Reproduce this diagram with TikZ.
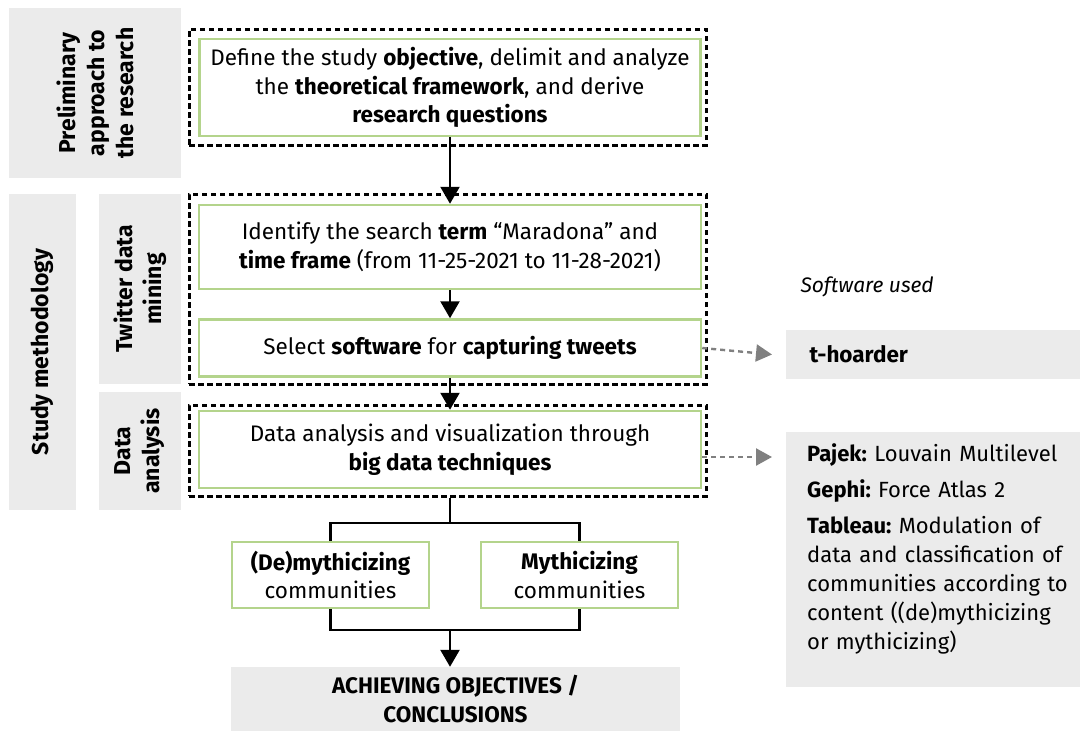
\documentclass[tikz,border=0pt]{standalone}
\usepackage{fontspec}
\setmainfont{Fira Sans}
\usetikzlibrary{arrows.meta}
\definecolor{gbox}{HTML}{EBEBEB}
\definecolor{lgreen}{HTML}{B4D48C}
\definecolor{darrow}{HTML}{808080}
\frenchspacing
\tikzset{
  greenbox/.style={draw=lgreen, line width=2.5pt, fill=white, align=center, inner sep=0pt, font=\fontsize{22.5}{28.5}\selectfont},
  dashbox/.style={draw=black, line width=3pt, dash pattern=on 5.5pt off 3.5pt},
  graybox/.style={fill=gbox, inner sep=0pt},
  sidelabel/.style={rotate=90, align=center, font=\bfseries\fontsize{23}{29}\selectfont},
  flow/.style={line width=2.4pt, -{Triangle[width=19pt,length=17pt]}},
  plain/.style={line width=2.4pt},
  softarrow/.style={darrow, line width=2.4pt, dash pattern=on 5pt off 4pt, -{Triangle[width=17pt,length=16pt]}},
}
\begin{document}
\begin{tikzpicture}[x=1pt,y=-1pt]
\useasboundingbox (0,0) rectangle (1080,731);
% gray label boxes
\node[graybox, minimum width=172, minimum height=170] (prel) at (95,93) {};
\node[graybox, minimum width=67, minimum height=316] (meth) at (42.5,352) {};
\node[graybox, minimum width=82, minimum height=190] (tw) at (140,289) {};
\node[graybox, minimum width=82, minimum height=118] (da) at (140,451) {};
\node[sidelabel] (prelt) at (prel.center) {Preliminary\\approach to\\the research};
\node[sidelabel] (metht) at (meth.center) {Study methodology};
\node[sidelabel] (twt) at (tw.center) {Twitter data\\mining};
\node[sidelabel] (dat) at (da.center) {Data\\analysis};
% dashed frames
\node[dashbox, minimum width=517, minimum height=116] (d1) at (447.5,87) {};
\node[dashbox, minimum width=517, minimum height=190] (d2) at (447.5,289) {};
\node[dashbox, minimum width=517, minimum height=91] (d3) at (447.5,450.5) {};
% green boxes
\node[greenbox, minimum width=501, minimum height=97] (obj) at (450,87.5) {Define the study \textbf{objective}, delimit and analyze\\the \textbf{theoretical framework}, and derive\\\textbf{research questions}};
\node[greenbox, minimum width=502, minimum height=84] (term) at (450,247) {Identify the search \textbf{term} “Maradona” and\\\textbf{time frame} (from 11-25-2021 to 11-28-2021)};
\node[greenbox, minimum width=502, minimum height=57] (soft) at (450,348) {Select \textbf{software} for \textbf{capturing tweets}};
\node[greenbox, minimum width=502, minimum height=77] (anal) at (450,449.5) {Data analysis and visualization through\\\textbf{big data techniques}};
\node[greenbox, minimum width=197, minimum height=66] (demy) at (330.5,575) {\textbf{(De)mythicizing}\\communities};
\node[greenbox, minimum width=197, minimum height=66] (myth) at (579.5,575) {\textbf{Mythicizing}\\communities};
\node[graybox, minimum width=449, minimum height=64, align=center, font=\bfseries\fontsize{22.5}{29}\selectfont] (concl) at (455.5,699) {ACHIEVING OBJECTIVES /\\CONCLUSIONS};
% right side
\node[font=\itshape\fontsize{21}{26}\selectfont, anchor=west] (swu) at (797,287) {Software used};
\node[graybox, minimum width=294, minimum height=49] (thoard) at (933,354.5) {};
\node[anchor=west, font=\bfseries\fontsize{22.5}{26}\selectfont] (thoardt) at (806,354.5) {t-hoarder};
\node[graybox, minimum width=294, minimum height=255] (tools) at (933,559.5) {};
\node[anchor=north west, align=left, inner sep=0pt, text width=272, font=\fontsize{22}{29}\selectfont] (toolst) at (807,443) {\textbf{Pajek:} Louvain Multilevel\\[7pt]\textbf{Gephi:} Force Atlas 2\\[7pt]\textbf{Tableau:} Modulation of\\data and classification of\\communities according to\\content ((de)mythicizing\\or mythicizing)};
% connectors
\draw[flow] (obj.south) -- (term.north);
\draw[flow] (term.south) -- (soft.north);
\draw[flow] (soft.south) -- (anal.north);
\coordinate (split) at (450,523);
\coordinate (join) at (450,630);
\draw[plain] (d3.south -| anal.south) -- (split);
\draw[plain] (demy.north) |- (split) -| (myth.north);
\draw[plain] (demy.south) |- (join) -| (myth.south);
\draw[flow] (join) -- (join |- concl.north);
\coordinate (a1) at (772,354.5);
\coordinate (a2) at (772,457);
\draw[softarrow] (soft.east) -- (a1);
\draw[softarrow] (soft.east |- a2) -- (a2);
\end{tikzpicture}
\end{document}
